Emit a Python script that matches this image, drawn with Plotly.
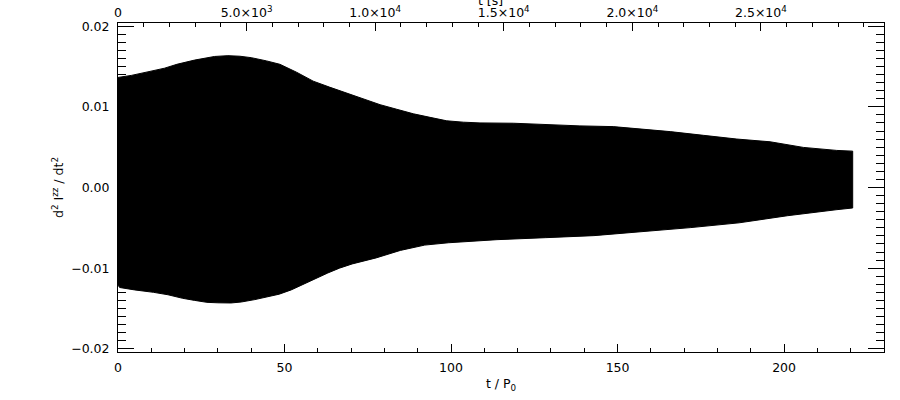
import plotly.graph_objects as go

# Envelope of d^2 I^zz / dt^2 (upper and lower), t in units of P0
t_upper = [0, 4, 9.6, 14, 17.7, 23, 29, 33, 36.6, 40, 44.6, 48.6, 53.6, 58.6, 63.5, 68.7, 73.7, 78.7,
           83.7, 88.7, 93.7, 98.7, 103.7, 108.7, 118.7, 128.8, 138.7, 148.7, 155.7, 165.8, 175.8,
           185.8, 195.8, 205.8, 215.8, 220.6]
v_upper = [0.01365, 0.0139, 0.0144, 0.0148, 0.01528, 0.0158, 0.01625, 0.01635, 0.01628, 0.0161, 0.0157,
           0.01528, 0.0143, 0.01319, 0.01245, 0.01173, 0.0110, 0.01027, 0.0097, 0.00914, 0.0087,
           0.00827, 0.0081, 0.00801, 0.00797, 0.00776, 0.00764, 0.00755, 0.0073, 0.00693, 0.00647,
           0.00601, 0.00567, 0.00497, 0.0046, 0.00451]
t_lower = [0, 0.5, 5, 10.7, 15, 19.4, 23, 26.7, 30, 33.9, 37, 41.1, 44.6, 48.4, 52, 55.7, 59, 63, 66.5,
           70.3, 77.5, 84.8, 92.1, 99.3, 113.8, 128.4, 142.9, 157.4, 172, 186.5, 201, 215.6, 220.6]
v_lower = [-0.0121, -0.0124, -0.0127, -0.0130, -0.0133, -0.01374, -0.0140, -0.01424, -0.0143, -0.01432,
           -0.0142, -0.0139, -0.0136, -0.01323, -0.0127, -0.01206, -0.0114, -0.0106, -0.0100,
           -0.00948, -0.00873, -0.0078, -0.00714, -0.00685, -0.00647, -0.00622, -0.00597, -0.00551,
           -0.00497, -0.00438, -0.0035, -0.00276, -0.00254]

# Axis ticks
x_ticks = [0, 50, 100, 150, 200]
P0 = 129.5  # seconds per t/P0 unit
top_ticks = [0, 5000, 10000, 15000, 20000, 25000]
top_labels = ["0", "5.0×10<sup>3</sup>", "1.0×10<sup>4</sup>", "1.5×10<sup>4</sup>",
              "2.0×10<sup>4</sup>", "2.5×10<sup>4</sup>"]
y_ticks = [-0.02, -0.01, 0.0, 0.01, 0.02]

x_max = 230
y_lim = 0.0204

font = dict(family="DejaVu Sans, Arial, sans-serif", size=12.5, color="black")

fig = go.Figure()
fig.add_trace(go.Scatter(
    x=t_upper + t_lower[::-1],
    y=v_upper + v_lower[::-1],
    mode="lines", fill="toself", fillcolor="black",
    line=dict(color="black", width=1), showlegend=False, hoverinfo="skip",
))
# dummy trace for the top axis
fig.add_trace(go.Scatter(x=[0, x_max * P0], y=[None, None], xaxis="x2", yaxis="y",
                         mode="lines", showlegend=False, hoverinfo="skip"))

fig.update_layout(
    width=900, height=400,
    margin=dict(l=118, r=16, t=23, b=48),
    plot_bgcolor="white", paper_bgcolor="white",
    font=font,
    xaxis=dict(range=[0, x_max], tickvals=x_ticks, ticks="inside", ticklen=8,
               tickcolor="black", showline=True, linecolor="black", linewidth=1,
               showgrid=False, zeroline=False, automargin=False, ticklabelstandoff=4,
               minor=dict(dtick=10, ticks="inside", ticklen=4, tickcolor="black"),
               title=dict(text="t / P<sub>0</sub>", standoff=5, font=font)),
    xaxis2=dict(range=[0, x_max * P0], overlaying="x", side="top", tickvals=top_ticks,
                ticktext=top_labels, ticks="inside", ticklen=8, tickcolor="black",
                showline=True, linecolor="black", linewidth=1, showgrid=False, zeroline=False,
                automargin=False,
                minor=dict(dtick=1000, ticks="inside", ticklen=4, tickcolor="black")),
    yaxis=dict(range=[-y_lim, y_lim], tickvals=y_ticks, tickformat=".2f", ticks="inside",
               ticklen=16, tickcolor="black", showline=True, linecolor="black", linewidth=1,
               mirror="ticks", showgrid=False, zeroline=False, automargin=False,
               ticklabelstandoff=5,
               minor=dict(dtick=0.001, ticks="inside", ticklen=8, tickcolor="black"),
               title=dict(text="d<sup>2</sup> I<sup>zz</sup> / dt<sup>2</sup>", standoff=4, font=font)),
    annotations=[dict(text="t [s]", xref="paper", yref="paper", x=0.486, y=1.0,
                      yshift=13, xanchor="center", yanchor="bottom", showarrow=False, font=font)],
)

fig.write_html("out.html", config={"displayModeBar": False},
               post_script="document.body.style.margin='0';")
